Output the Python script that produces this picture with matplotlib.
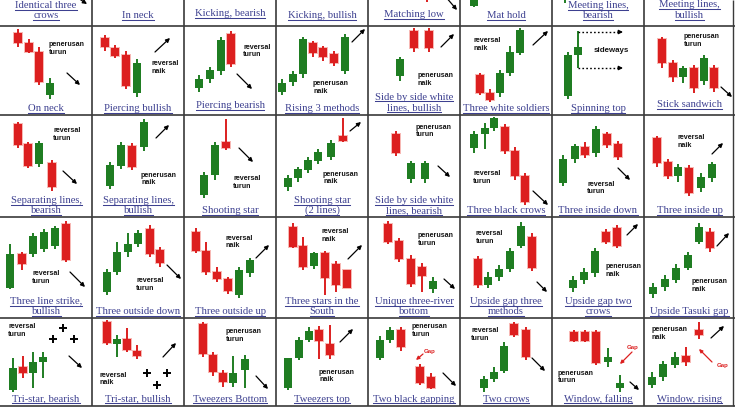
import matplotlib
matplotlib.use("Agg")
import matplotlib.pyplot as plt

plt.rcParams['font.family'] = ['Liberation Sans', 'DejaVu Sans']

RED = "#dc1f1f"
RED_GLOW = "#f7b8b4"
GREEN = "#1f7d22"
INK = "#141414"
LINK = "#3d4090"
GRID = "#3a3a3a"

W, H = 735, 413
COL_EDGES = [0, 92, 184, 276, 368, 460, 552, 644, 735]
ROW_EDGES = [-63, 26, 115, 217, 318, 406]
UNDERLINE_LIFT = [6.0, 2.5, 2.2, 2.2, 2.6]   # px above the cell floor, per row

# ---- labels, row by row (8 per row) ----
LABELS = [
    "Identical three\ncrows", "In neck", "Kicking, bearish", "Kicking, bullish",
    "Matching low", "Mat hold", "Meeting lines,\nbearish", "Meeting lines,\nbullish",
    "On neck", "Piercing bullish", "Piercing bearish", "Rising 3 methods",
    "Side by side white\nlines, bullish", "Three white soldiers", "Spinning top", "Stick sandwich",
    "Separating lines,\nbearish", "Separating lines,\nbullish", "Shooting star", "Shooting star\n(2 lines)",
    "Side by side white\nlines, bearish", "Three black crows", "Three inside down", "Three inside up",
    "Three line strike,\nbullish", "Three outside down", "Three outside up", "Three stars in the\nSouth",
    "Unique three-river\nbottom", "Upside gap three\nmethods", "Upside gap two\ncrows", "Upside Tasuki gap",
    "Tri-star, bearish", "Tri-star, bullish", "Tweezers Bottom", "Tweezers top",
    "Two black gapping", "Two crows", "Window, falling", "Window, rising",
]
LABEL_NUDGE = [0, 0, 2, 0, 1.5, 0.5, 0, 0.5,
               0, 0, 2.5, 0, 0.8, 0, 0, 3.5,
               0, 0, 0, 0, 0, 0, 0, 0,
               0, 0, 0, 0, 0, 0, 0, 0,
               0, 0, 0, 0, 0, 0, 0, 0]

# ---- candles: (t, open, high, low, close) ----
IDENTICAL_THREE_CROWS = []
IN_NECK = []
KICKING_BEARISH = []
KICKING_BULLISH = []
MATCHING_LOW = [(59, 40, 42, 24, 28)]
MAT_HOLD = [(14, 20, 40, 19, 36)]
MEETING_LINES_BEARISH = [(13, 30, 44, 23, 40)]
MEETING_LINES_BULLISH = []

ON_NECK = [(18, 82, 86, 68, 72), (29, 72, 76, 62, 63), (39, 63, 68, 30, 33), (50, 20, 37, 16, 32)]
PIERCING_BULLISH = [(13, 77, 80, 64, 68), (23, 67, 70, 57, 59), (34, 60, 64, 26, 29), (45, 22, 56, 18, 52)]
PIERCING_BEARISH = [(15, 27, 40, 23, 36), (26, 36, 48, 32, 45), (37, 44, 78, 40, 75), (47, 81, 84, 48, 51)]
RISING_3_METHODS = [(6, 23, 36, 20, 32), (17, 33, 44, 29, 41), (27, 41, 78, 37, 76), (37, 72, 74, 58, 62),
                    (47, 67, 69, 54, 58), (58, 61, 64, 49, 52), (69, 44, 81, 41, 78)]
SIDE_BY_SIDE_BULLISH = [(32, 39, 58, 34, 56), (46, 84, 87, 63, 67), (61, 84, 87, 63, 67)]
THREE_WHITE_SOLDIERS = [(20, 40, 42, 20, 22), (30, 22, 26, 13, 15), (40, 22, 45, 18, 42),
                        (50, 42, 69, 39, 63), (60, 62, 87, 60, 85)]
SPINNING_TOP = [(16, 19, 63, 16, 60), (26, 60, 84, 47, 68)]
STICK_SANDWICH = [(18, 76, 78, 47, 52), (29, 52, 55, 33, 38), (39, 38, 49, 32, 47), (50, 47, 50, 22, 27),
                  (60, 34, 60, 30, 57), (70, 47, 50, 23, 27)]

SEPARATING_BEARISH = [(18, 93, 95, 69, 72), (28, 73, 75, 49, 51), (39, 53, 76, 50, 74), (52, 54, 57, 26, 30)]
SEPARATING_BULLISH = [(18, 31, 55, 28, 52), (29, 51, 75, 48, 72), (40, 71, 74, 47, 50), (52, 70, 98, 66, 95)]
SHOOTING_STAR = [(20, 22, 45, 19, 42), (31, 42, 75, 37, 72), (42, 75, 98, 67, 69)]
SHOOTING_STAR_2 = [(12, 30, 42, 26, 39), (22, 39, 50, 35, 48), (32, 47, 60, 44, 57), (42, 56, 68, 53, 65),
                   (55, 60, 77, 57, 74), (67, 81, 99, 75, 76)]
SIDE_BY_SIDE_BEARISH = [(28, 83, 86, 61, 64), (43, 38, 56, 34, 54), (57, 38, 56, 34, 54)]
THREE_BLACK_CROWS = [(14, 69, 86, 64, 83), (25, 83, 94, 68, 89), (34, 89, 100, 86, 99),
                     (45, 90, 93, 63, 66), (55, 66, 70, 37, 41), (65, 41, 44, 12, 15)]
THREE_INSIDE_DOWN = [(11, 34, 62, 31, 58), (23, 58, 73, 54, 71), (33, 70, 75, 59, 62),
                     (44, 64, 91, 60, 88), (55, 83, 85, 69, 72), (66, 73, 76, 57, 60)]
THREE_INSIDE_UP = [(13, 79, 81, 50, 54), (24, 55, 58, 38, 41), (34, 41, 53, 35, 50),
                   (45, 49, 52, 21, 24), (57, 29, 44, 25, 40), (68, 39, 55, 35, 53)]

THREE_LINE_STRIKE = [(10, 30, 74, 29, 64), (22, 64, 66, 48, 54), (33, 64, 85, 61, 82),
                     (44, 69, 89, 66, 86), (55, 72, 92, 69, 90), (66, 94, 97, 56, 58)]
THREE_OUTSIDE_DOWN = [(15, 26, 49, 23, 46), (25, 46, 76, 43, 66), (36, 66, 85, 61, 74),
                      (46, 74, 88, 71, 85), (58, 89, 93, 61, 64), (68, 68, 71, 51, 55)]
THREE_OUTSIDE_UP = [(12, 86, 90, 65, 67), (22, 67, 76, 43, 46), (33, 46, 51, 36, 39),
                    (44, 39, 41, 24, 27), (55, 23, 51, 20, 48), (66, 45, 60, 41, 58)]
THREE_STARS_SOUTH = [(17, 91, 95, 70, 71), (27, 72, 81, 48, 51), (38, 52, 66, 49, 65),
                     (49, 65, 67, 23, 40), (60, 54, 57, 26, 33), (71, 48, 48, 30, 30)]
UNIQUE_THREE_RIVER = [(20, 94, 97, 74, 76), (31, 77, 80, 56, 59), (43, 59, 63, 31, 34),
                      (54, 51, 55, 26, 42), (65, 29, 41, 25, 37)]
UPSIDE_GAP_THREE = [(18, 59, 62, 30, 33), (28, 33, 46, 30, 41), (39, 41, 53, 37, 49),
                    (50, 49, 70, 46, 67), (61, 72, 96, 70, 92), (72, 81, 85, 47, 50)]
UPSIDE_GAP_TWO_CROWS = [(21, 30, 42, 26, 38), (32, 38, 50, 34, 46), (43, 45, 70, 41, 67),
                        (54, 86, 89, 74, 76), (65, 90, 93, 70, 72)]
UPSIDE_TASUKI = [(9, 24, 35, 20, 31), (21, 31, 43, 27, 39), (32, 38, 54, 35, 50),
                 (44, 50, 66, 48, 63), (55, 76, 95, 74, 91), (66, 86, 90, 66, 70)]

TRI_STAR_BEARISH = [(13, 16, 48, 14, 38), (23, 39, 50, 28, 33), (33, 33, 54, 18, 44), (43, 44, 54, 28, 49)]
TRI_STAR_BULLISH = [(15, 84, 86, 61, 63), (25, 62, 71, 49, 67), (35, 67, 78, 54, 56), (45, 55, 61, 47, 50)]
TWEEZERS_BOTTOM = [(19, 82, 84, 49, 52), (29, 51, 54, 30, 34), (39, 33, 36, 19, 24),
                   (49, 23, 50, 19, 33), (61, 36, 51, 18, 47)]
TWEEZERS_TOP = [(12, 18, 48, 16, 48), (23, 48, 69, 46, 66), (33, 66, 79, 64, 75),
                (43, 76, 80, 47, 65), (54, 62, 81, 47, 51)]
TWO_BLACK_GAPPING = [(12, 48, 70, 46, 66), (22, 66, 79, 63, 76), (33, 76, 79, 55, 59),
                     (52, 39, 42, 21, 23), (63, 29, 33, 17, 18)]
TWO_CROWS = [(24, 18, 30, 14, 27), (34, 27, 39, 24, 34), (44, 35, 64, 33, 60),
             (54, 82, 84, 69, 71), (66, 76, 79, 46, 49)]
WINDOW_FALLING = [(22, 74, 76, 64, 65), (33, 74, 76, 64, 65), (44, 74, 76, 41, 43),
                  (56, 44, 58, 39, 49), (68, 18, 31, 14, 23)]
WINDOW_RISING = [(8, 21, 34, 18, 29), (19, 29, 45, 25, 42), (31, 41, 54, 38, 49),
                 (42, 50, 59, 40, 44), (55, 76, 84, 67, 71)]

CANDLES = [
    IDENTICAL_THREE_CROWS, IN_NECK, KICKING_BEARISH, KICKING_BULLISH,
    MATCHING_LOW, MAT_HOLD, MEETING_LINES_BEARISH, MEETING_LINES_BULLISH,
    ON_NECK, PIERCING_BULLISH, PIERCING_BEARISH, RISING_3_METHODS,
    SIDE_BY_SIDE_BULLISH, THREE_WHITE_SOLDIERS, SPINNING_TOP, STICK_SANDWICH,
    SEPARATING_BEARISH, SEPARATING_BULLISH, SHOOTING_STAR, SHOOTING_STAR_2,
    SIDE_BY_SIDE_BEARISH, THREE_BLACK_CROWS, THREE_INSIDE_DOWN, THREE_INSIDE_UP,
    THREE_LINE_STRIKE, THREE_OUTSIDE_DOWN, THREE_OUTSIDE_UP, THREE_STARS_SOUTH,
    UNIQUE_THREE_RIVER, UPSIDE_GAP_THREE, UPSIDE_GAP_TWO_CROWS, UPSIDE_TASUKI,
    TRI_STAR_BEARISH, TRI_STAR_BULLISH, TWEEZERS_BOTTOM, TWEEZERS_TOP,
    TWO_BLACK_GAPPING, TWO_CROWS, WINDOW_FALLING, WINDOW_RISING,
]

# ---- notes inside the cells: (text, x, y) ----
NOTES = [
    None, None, None, None, None, None, None, None,
    ("penerusan\nturun", 49, 66.5), ("reversal\nnaik", 59, 47.5), ("reversal\nturun", 59, 64),
    ("penerusan\nnaik", 37, 27.5), ("penerusan\nnaik", 50, 35.5), ("reversal\nnaik", 14, 70.5),
    ("sideways", 42, 64), ("penerusan\nturun", 40, 74.5),
    ("reversal\nturun", 53, 82.5), ("penerusan\nnaik", 49, 38), ("reversal\nturun", 49, 34.5),
    ("penerusan\nnaik", 47, 39), ("penerusan\nturun", 48, 86), ("reversal\nturun", 13, 39.5),
    ("reversal\nturun", 35, 29), ("reversal\nnaik", 34, 75.5),
    ("reversal\nturun", 32, 40.5), ("reversal\nturun", 44, 33.5), ("reversal\nnaik", 41, 76),
    ("reversal\nnaik", 46, 82.5), ("penerusan\nturun", 50, 78.5), ("reversal\nturun", 16, 80.5),
    ("penerusan\nnaik", 54, 47.5), ("penerusan\nnaik", 48, 32.5),
    ("reversal\nturun", 8, 75.5), ("reversal\nnaik", 7, 27), ("penerusan\nturun", 42, 70.5),
    ("penerusan\nnaik", 43, 30), ("penerusan\nturun", 44, 75.5), ("reversal\nturun", 11, 71.5),
    ("penerusan\nturun", 6, 29), ("penerusan\nnaik", 8, 72.5),
]

# ---- trend arrows: (x0, y0, x1, y1) ----
ARROWS = [
    (72, 32, 87, 22), None, None, None, (77, 30, 89, 16), None, None, None,
    (67, 42, 80, 30), (63, 63, 78, 77), (53, 41, 68, 26), (76, 73, 89, 86),
    (73, 68, 86, 81), (73, 70, 88, 84), None, (77, 28, 88, 18),
    (63, 46, 77, 33), (64, 79, 77, 92), (55, 69, 69, 55), (74, 86, 85, 95),
    (70, 51, 82, 40), (73, 26, 88, 12), (66, 49, 78, 37), (68, 63, 79, 74),
    (70, 46, 85, 31), (75, 53, 89, 39), (72, 60, 85, 73), (72, 59, 86, 73),
    (76, 39, 87, 29), (77, 36, 87, 26), (75, 83, 86, 94), (73, 72, 85, 85),
    (69, 50, 82, 38), (71, 49, 84, 63), (72, 30, 84, 17), (64, 64, 77, 77),
    (75, 33, 88, 20), (72, 48, 85, 35), (78, 24, 87, 16), (67, 68, 80, 80),
]

SIDEWAYS_LEVELS = [83, 47]                 # spinning top dotted guides
SIDEWAYS_SPAN = (26, 71)

STARS = {32: [(63, 78), (53, 67), (74, 67)], 33: [(55, 33), (75, 33), (65, 21)]}
GAPS = {36: (56, 54, 55, 52, 48, 46), 38: (75, 59, 80, 54, 68, 42), 39: (73, 41, 68, 44, 55, 57)}

fig = plt.figure(figsize=(W / 100, H / 100), dpi=100)
fig.patch.set_facecolor("white")

label_items = []
for i, label in enumerate(LABELS):
    r, c = divmod(i, 8)
    x0, x1 = COL_EDGES[c], COL_EDGES[c + 1]
    y0, y1 = ROW_EDGES[r], ROW_EDGES[r + 1]
    ax = fig.add_axes([x0 / W, 1 - y1 / H, (x1 - x0) / W, (y1 - y0) / H])
    ax.set_xlim(0, x1 - x0)
    ax.set_ylim(0, y1 - y0)
    ax.axis("off")

    for t, o, hi, lo, cl in CANDLES[i]:
        col = GREEN if cl >= o else RED
        bot, top = min(o, cl), max(o, cl)
        if col == RED:
            ax.bar(t, top - bot + 2, bottom=bot - 1, width=10.5, color=RED_GLOW, zorder=1)
        ax.vlines(t, lo, hi, color=col, lw=1.4, zorder=2)
        ax.bar(t, max(top - bot, 1), bottom=bot, width=8.4, color=col, zorder=3)

    note = NOTES[i]
    if note:
        txt, nx, ny = note
        size = 5.7 if txt == "sideways" else 5.1
        ax.text(nx, ny, txt, ha="left", va="center", fontsize=size, fontweight="bold",
                color=INK, linespacing=1.05)

    arr = ARROWS[i]
    if arr:
        ax.annotate("", xy=(arr[2], arr[3]), xytext=(arr[0], arr[1]),
                    arrowprops=dict(arrowstyle="-|>", color="black", lw=0.9,
                                    mutation_scale=6, shrinkA=0, shrinkB=0),
                    annotation_clip=False)

    if label == "Spinning top":
        for lvl in SIDEWAYS_LEVELS:
            ax.plot([SIDEWAYS_SPAN[0], SIDEWAYS_SPAN[1] - 5], [lvl, lvl], color="black",
                    lw=1.0, ls=(0, (1.2, 1.6)))
            ax.annotate("", xy=(SIDEWAYS_SPAN[1], lvl), xytext=(SIDEWAYS_SPAN[1] - 5, lvl),
                        arrowprops=dict(arrowstyle="-|>", color="black", lw=0.9,
                                        mutation_scale=6, shrinkA=0, shrinkB=0))

    for sx, sy in STARS.get(i, []):
        ax.plot(sx, sy, marker="+", ms=5.5, mew=1.4, color="black")

    if i in GAPS:
        gx, gy, ax0, ay0, ax1, ay1 = GAPS[i]
        ax.text(gx, gy, "Gap", ha="left", va="center", fontsize=4.4, fontweight="bold", color=RED)
        ax.annotate("", xy=(ax1, ay1), xytext=(ax0, ay0),
                    arrowprops=dict(arrowstyle="-|>", color=RED, lw=0.9,
                                    mutation_scale=5, shrinkA=0, shrinkB=0))

    lines = label.split("\n")
    base = UNDERLINE_LIFT[r] + LABEL_NUDGE[i] + 1.8
    for k, line in enumerate(lines):
        yb = base + 10.3 * (len(lines) - 1 - k)
        t = ax.text((x1 - x0) / 2, yb, line, ha="center", va="baseline", fontsize=7.7,
                    family=["Liberation Serif", "DejaVu Serif"], color=LINK)
        label_items.append((ax, t, yb))

# underline each label line like a hyperlink
fig.canvas.draw()
renderer = fig.canvas.get_renderer()
for ax, t, yb in label_items:
    bb = t.get_window_extent(renderer)
    inv = ax.transData.inverted()
    xa, _ = inv.transform((bb.x0, bb.y0))
    xb, _ = inv.transform((bb.x1, bb.y0))
    ax.plot([xa, xb], [yb - 1.8, yb - 1.8], color=LINK, lw=0.75, clip_on=False)

# table rules on top
grid = fig.add_axes([0, 0, 1, 1], zorder=5)
grid.set_xlim(0, W)
grid.set_ylim(H, 0)
grid.axis("off")
grid.vlines(COL_EDGES[1:-1], 0, ROW_EDGES[-1], color=GRID, lw=1.2)
grid.vlines([733], 0, ROW_EDGES[-1], color=GRID, lw=1.0)
grid.hlines(ROW_EDGES[1:], 0, W, color=GRID, lw=1.2)

fig.savefig("out.png", dpi=100)
